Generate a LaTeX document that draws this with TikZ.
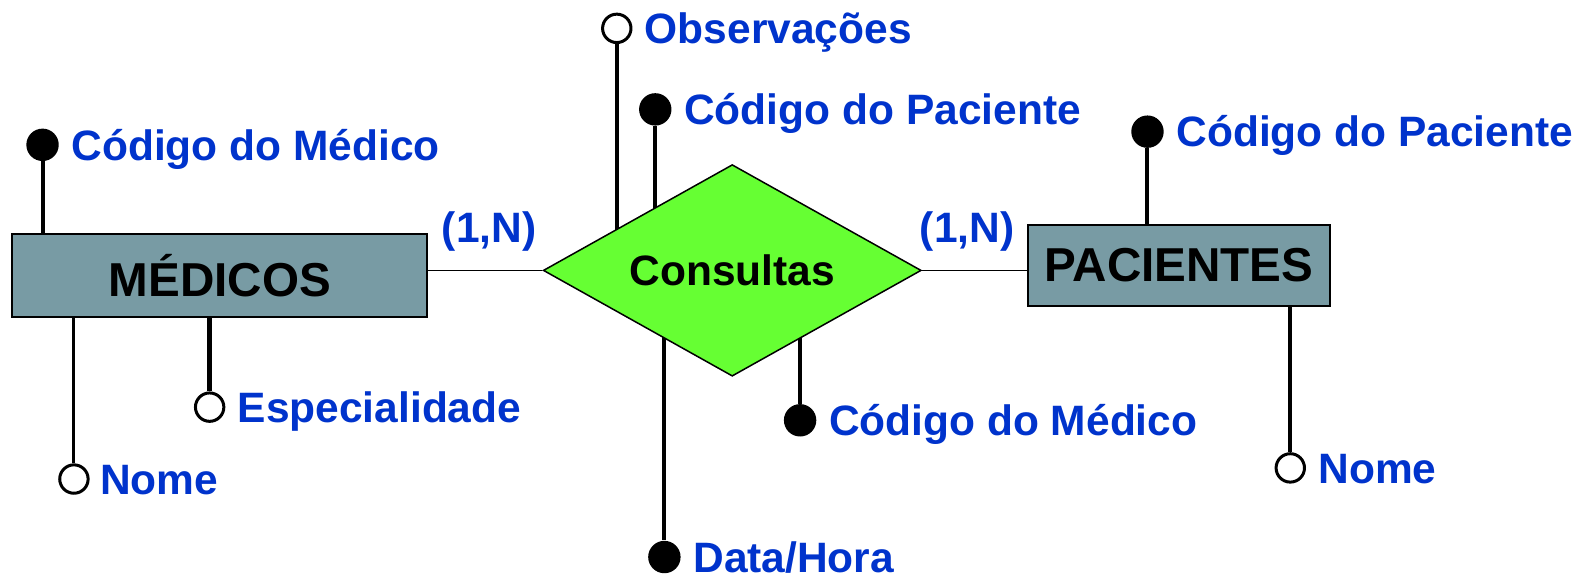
\documentclass[tikz,border=0pt]{standalone}
\usepackage{fontspec}
\setmainfont{Liberation Sans}
\usetikzlibrary{positioning}
\usetikzlibrary{shapes.geometric}
\usetikzlibrary{backgrounds}
\definecolor{entfill}{RGB}{120,155,164}
\definecolor{relfill}{RGB}{102,255,51}
\definecolor{attrblue}{RGB}{0,51,204}

\begin{document}
\begin{tikzpicture}[x=0.5064pt, y=-0.5064pt,
    entity/.style={draw, line width=1pt, fill=entfill, inner sep=0pt, font=\fontsize{23.8}{28}\selectfont\bfseries},
    relation/.style={diamond, aspect=1.8, draw, line width=0.75pt, fill=relfill, inner sep=0pt,
        minimum width=189pt, minimum height=105.8pt, font=\fontsize{21.25}{25}\selectfont\bfseries},
    keydot/.style={circle, fill=black, inner sep=0pt, minimum size=16.2pt},
    optdot/.style={circle, draw, line width=1.5pt, fill=white, inner sep=0pt, minimum size=14.2pt},
    attr/.style={text=attrblue, inner sep=0pt, text height=15.2pt, text depth=0pt, font=\fontsize{21.25}{25}\selectfont\bfseries},
    card/.style={text=attrblue, inner sep=0pt, font=\fontsize{21.25}{25}\selectfont\bfseries},
    attrline/.style={line width=2pt},
    link/.style={line width=0.75pt},
    node distance=6pt]
    \useasboundingbox (0pt,0pt) rectangle (793.5pt,-288.5pt);

    % Entities and relationship
    \node[entity, minimum width=207.6pt, minimum height=41.5pt] (medicos) at (217,272) {MÉDICOS};
    \node[relation] (consultas) at (723,267) {Consultas};
    \node[entity, minimum width=150.9pt, minimum height=40.5pt] (pacientes) at (1164,262) {PACIENTES};

    % Links and cardinalities
    \draw[link] (consultas.west) -- (consultas.west -| medicos.east);
    \draw[link] (consultas.east) -- (consultas.east -| pacientes.west);
    \node[card] (cardmed) at (483,229) {(1,N)};
    \node[card] (cardpac) at (955,229) {(1,N)};

    % Attributes of MEDICOS
    \node[keydot] (codmed) at (42,143) {};
    \node[attr, right=of codmed] (codmedtxt) {Código do Médico};
    \draw[attrline] (codmed) -- (codmed |- medicos.north);
    \node[optdot] (nomemed) at (73,473) {};
    \node[attr, right=5pt of nomemed] (nomemedtxt) {Nome};
    \draw[line width=1.5pt] (nomemed) -- (nomemed |- medicos.south);
    \node[optdot] (espec) at (207,402) {};
    \node[attr, right=of espec] (espectxt) {Especialidade};
    \draw[line width=2.5pt] (espec) -- (espec |- medicos.south);

    % Attributes of Consultas
    \node[optdot] (obs) at (609,28) {};
    \node[attr, right=of obs] (obstxt) {Observações};
    \node[keydot] (codpac) at (647,108) {};
    \node[attr, right=of codpac] (codpactxt) {Código do Paciente};
    \node[keydot] (codmedc) at (790,415) {};
    \node[attr, right=of codmedc] (codmedctxt) {Código do Médico};
    \node[keydot] (datahora) at (656,550) {};
    \node[attr, right=of datahora] (datahoratxt) {Data/Hora};
    \begin{scope}[on background layer]
        \draw[attrline] (obs) -- (obs |- consultas.center);
        \draw[attrline] (codpac) -- (codpac |- consultas.center);
        \draw[attrline] (codmedc) -- (codmedc |- consultas.center);
        \draw[attrline] (datahora) -- (datahora |- consultas.center);
    \end{scope}

    % Attributes of PACIENTES
    \node[keydot] (codpacp) at (1133,130) {};
    \node[attr, right=of codpacp] (codpacptxt) {Código do Paciente};
    \draw[attrline] (codpacp) -- (codpacp |- pacientes.north);
    \node[optdot] (nomepac) at (1274,462) {};
    \node[attr, right=of nomepac] (nomepactxt) {Nome};
    \draw[attrline] (nomepac) -- (nomepac |- pacientes.south);
\end{tikzpicture}
\end{document}
